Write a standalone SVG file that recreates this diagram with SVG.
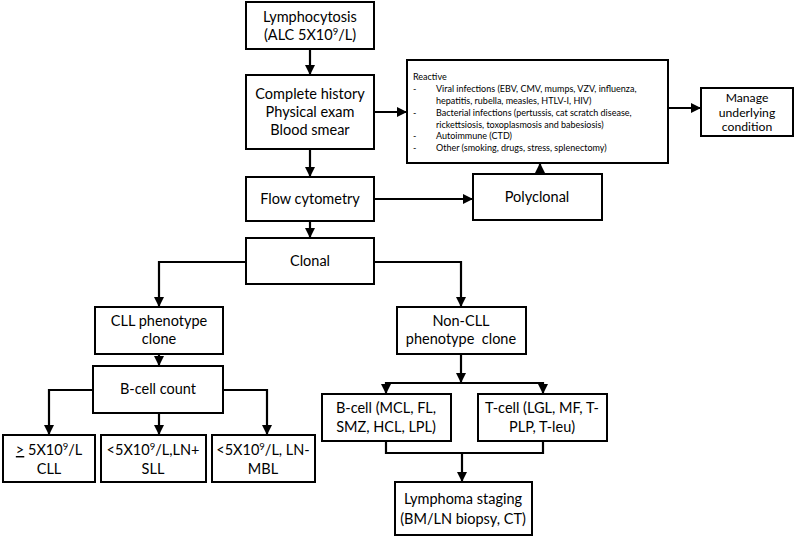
<svg xmlns="http://www.w3.org/2000/svg" width="795" height="537" viewBox="0 0 795 537">
<defs>
<marker id="ah" viewBox="0 0 10 10" refX="10" refY="5" markerWidth="10" markerHeight="13" markerUnits="userSpaceOnUse" orient="auto">
<path d="M0,0 L10,5 L0,10 z" fill="#000"/>
</marker>
<style>
.box{fill:#fff;stroke:#000;stroke-width:2}
.t{font-family:Lato,"Liberation Sans",sans-serif;font-size:14.5px;fill:#000;text-anchor:middle}
.m{font-size:12.2px}
.s{font-family:Lato,"Liberation Sans",sans-serif;font-size:9px;fill:#000}
.c{fill:none;stroke:#000;stroke-width:2.2}
.a{marker-end:url(#ah)}
</style>
</defs>
<rect width="795" height="537" fill="#fff"/>
<g id="connectors">
<line class="c a" x1="310" y1="49" x2="310" y2="75"/>
<line class="c a" x1="310" y1="149" x2="310" y2="177"/>
<line class="c a" x1="374" y1="112" x2="407" y2="112"/>
<line class="c a" x1="310" y1="221" x2="310" y2="238"/>
<line class="c a" x1="374" y1="199" x2="473" y2="199"/>
<line class="c a" x1="540" y1="174" x2="540" y2="163"/>
<line class="c a" x1="668" y1="108" x2="701" y2="108"/>
<path class="c a" d="M246,262 H159 V307"/>
<path class="c a" d="M374,262 H461 V307"/>
<line class="c a" x1="159" y1="354" x2="159" y2="366"/>
<path class="c a" d="M93,390 H49 V435"/>
<line class="c a" x1="159" y1="413" x2="159" y2="435"/>
<path class="c a" d="M223,390 H267 V435"/>
<line class="c a" x1="461" y1="354" x2="461" y2="383"/>
<path class="c a" d="M461,383 H386 V394"/>
<path class="c a" d="M461,383 H543 V394"/>
<path class="c" d="M386,441 V453 H543 V441"/>
<line class="c a" x1="462" y1="453" x2="462" y2="482"/>
</g>
<g id="lymphocytosis">
<rect class="box" x="246" y="2" width="128" height="47"/>
<text class="t" x="310" y="22">Lymphocytosis</text>
<text class="t" x="310" y="40">(ALC 5X10<tspan dy="-5" font-size="9.5">9</tspan><tspan dy="5">/L)</tspan></text>
</g>
<g id="history">
<rect class="box" x="246" y="75" width="128" height="74"/>
<text class="t" x="310" y="99">Complete history</text>
<text class="t" x="310" y="117">Physical exam</text>
<text class="t" x="310" y="135">Blood smear</text>
</g>
<g id="reactive">
<rect class="box" x="407" y="60" width="261" height="103"/>
<text class="s" x="413" y="80">Reactive</text>
<text class="s" x="413" y="92">-</text>
<text class="s" x="436" y="92">Viral infections (EBV, CMV, mumps, VZV, influenza,</text>
<text class="s" x="436" y="104">hepatitis, rubella, measles, HTLV-I, HIV)</text>
<text class="s" x="413" y="116">-</text>
<text class="s" x="436" y="116">Bacterial infections (pertussis, cat scratch disease,</text>
<text class="s" x="436" y="128">rickettsiosis, toxoplasmosis and babesiosis)</text>
<text class="s" x="413" y="139">-</text>
<text class="s" x="436" y="139">Autoimmune (CTD)</text>
<text class="s" x="413" y="151">-</text>
<text class="s" x="436" y="151">Other (smoking, drugs, stress, splenectomy)</text>
</g>
<g id="manage">
<rect class="box" x="701" y="88" width="92" height="48"/>
<text class="t m" x="747" y="102">Manage</text>
<text class="t m" x="747" y="116.5">underlying</text>
<text class="t m" x="747" y="131">condition</text>
</g>
<g id="flow">
<rect class="box" x="246" y="177" width="128" height="44"/>
<text class="t" x="310" y="204">Flow cytometry</text>
</g>
<g id="polyclonal">
<rect class="box" x="473" y="174" width="129" height="46"/>
<text class="t" x="537" y="202">Polyclonal</text>
</g>
<g id="clonal">
<rect class="box" x="246" y="238" width="128" height="46"/>
<text class="t" x="310" y="266">Clonal</text>
</g>
<g id="cll">
<rect class="box" x="95" y="307" width="128" height="47"/>
<text class="t" x="159" y="326">CLL phenotype</text>
<text class="t" x="159" y="344">clone</text>
</g>
<g id="noncll">
<rect class="box" x="397" y="307" width="129" height="47"/>
<text class="t" x="461" y="326">Non-CLL</text>
<text class="t" x="461" y="344" xml:space="preserve">phenotype  clone</text>
</g>
<g id="bcount">
<rect class="box" x="93" y="366" width="130" height="47"/>
<text class="t" x="158" y="394">B-cell count</text>
</g>
<g id="cll-result">
<rect class="box" x="3" y="435" width="92" height="47"/>
<text class="t" x="49" y="455"><tspan text-decoration="underline">&gt;</tspan> 5X10<tspan dy="-5" font-size="9.5">9</tspan><tspan dy="5">/L</tspan></text>
<text class="t" x="49" y="474">CLL</text>
</g>
<g id="sll-result">
<rect class="box" x="101" y="435" width="105" height="47"/>
<text class="t" x="153" y="455">&lt;5X10<tspan dy="-5" font-size="9.5">9</tspan><tspan dy="5">/L,LN+</tspan></text>
<text class="t" x="153" y="474">SLL</text>
</g>
<g id="mbl-result">
<rect class="box" x="212" y="435" width="103" height="47"/>
<text class="t" x="263" y="455">&lt;5X10<tspan dy="-5" font-size="9.5">9</tspan><tspan dy="5">/L, LN-</tspan></text>
<text class="t" x="263" y="474">MBL</text>
</g>
<g id="bcell">
<rect class="box" x="322" y="394" width="129" height="47"/>
<text class="t" x="386" y="413">B-cell (MCL, FL,</text>
<text class="t" x="386" y="432">SMZ, HCL, LPL)</text>
</g>
<g id="tcell">
<rect class="box" x="478" y="394" width="129" height="47"/>
<text class="t" x="542" y="413">T-cell (LGL, MF, T-</text>
<text class="t" x="542" y="432">PLP, T-leu)</text>
</g>
<g id="staging">
<rect class="box" x="395" y="482" width="137" height="53"/>
<text class="t" x="463" y="504">Lymphoma staging</text>
<text class="t" x="463" y="524">(BM/LN biopsy, CT)</text>
</g>
</svg>
